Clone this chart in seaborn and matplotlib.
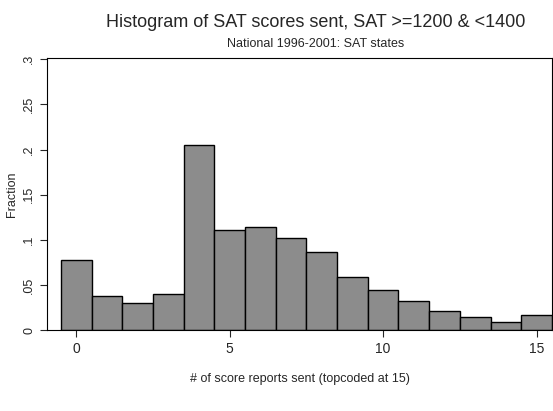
import matplotlib
matplotlib.use("Agg")
import matplotlib.pyplot as plt
import seaborn as sns

scores = list(range(16))
fractions = [0.078, 0.038, 0.030, 0.040, 0.205, 0.111, 0.114, 0.102,
             0.087, 0.059, 0.044, 0.032, 0.021, 0.014, 0.009, 0.017]
yticks = [0, 0.05, 0.1, 0.15, 0.2, 0.25, 0.3]
ylabels = ["0", ".05", ".1", ".15", ".2", ".25", ".3"]

sns.set_style("white")
plt.rcParams['font.family'] = ['Liberation Sans', 'DejaVu Sans']

fig = plt.figure(figsize=(5.53, 4.11), dpi=100)
ax = fig.add_axes([0.085, 0.197, 0.913, 0.663])

sns.histplot(x=scores, weights=fractions, discrete=True, ax=ax,
             color="#8c8c8c", edgecolor="black", linewidth=1, alpha=1)

ax.set_xlim(-0.95, 15.5)
ax.set_ylim(0, 0.302)
ax.set_xticks([0, 5, 10, 15])
ax.set_yticks(yticks)
ax.set_yticklabels(ylabels, rotation=90, va="center")
ax.tick_params(axis="both", direction="out", length=5, labelsize=10, left=True, bottom=True)
ax.tick_params(axis="y", labelsize=9)
for s in ax.spines.values():
    s.set_color("black")
    s.set_linewidth(0.8)
ax.set_xlabel("# of score reports sent (topcoded at 15)", fontsize=9, labelpad=12)
ax.set_ylabel("Fraction", fontsize=9)

fig.text(0.57, 0.945, "Histogram of SAT scores sent, SAT >=1200 & <1400",
         ha="center", va="center", fontsize=13)
fig.text(0.57, 0.893, "National 1996-2001: SAT states", ha="center",
         va="center", fontsize=9)

fig.savefig("out.png", dpi=100)
